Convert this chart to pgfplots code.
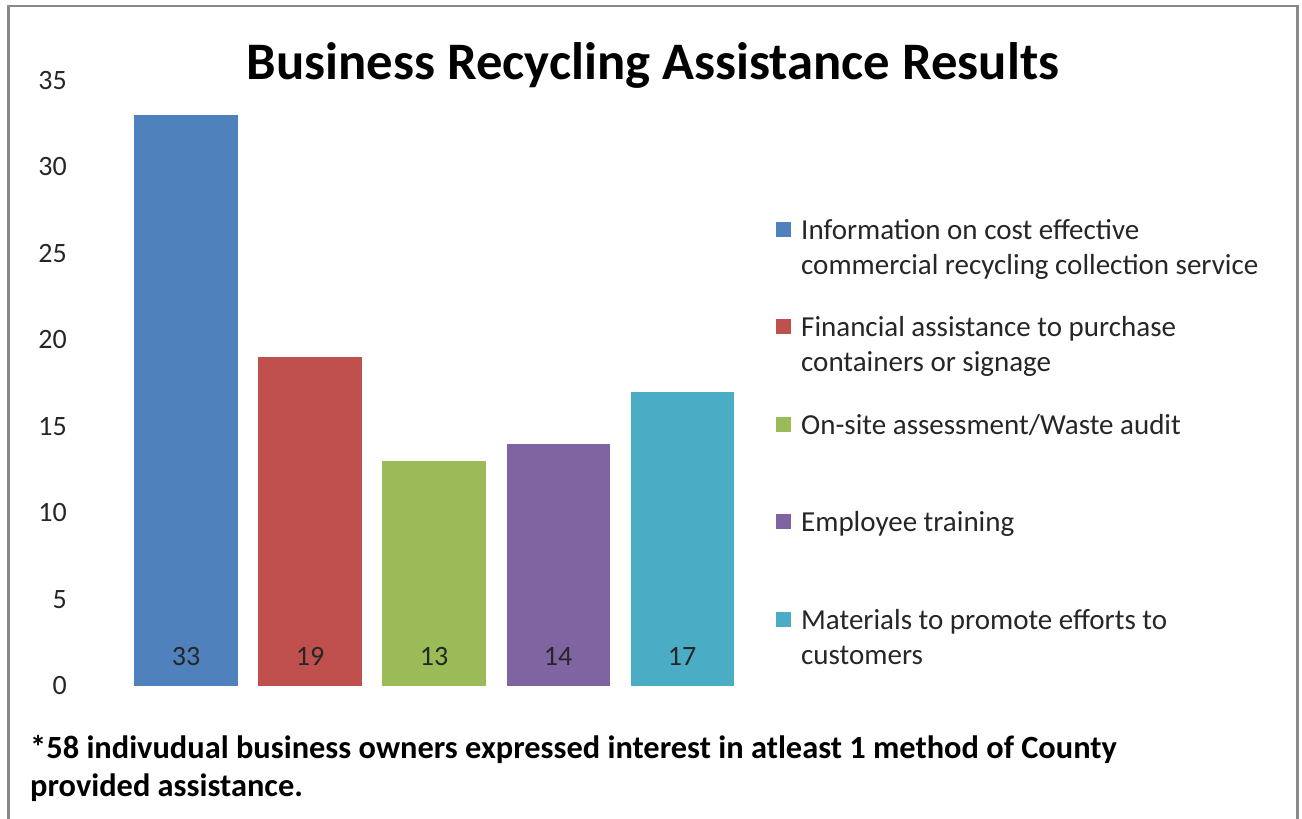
\documentclass[border=0pt]{standalone}
\usepackage{fontspec}
\setmainfont{Carlito}
\usepackage{pgfplots}
\pgfplotsset{compat=1.18}
\definecolor{c1}{HTML}{4F81BD}
\definecolor{c2}{HTML}{C0504D}
\definecolor{c3}{HTML}{9BBB59}
\definecolor{c4}{HTML}{8064A2}
\definecolor{c5}{HTML}{4BACC6}
\definecolor{frame}{HTML}{898989}
\definecolor{txt}{HTML}{262626}
\begin{document}
\begin{tikzpicture}
\path[use as bounding box] (0pt,0pt) rectangle (1302pt,819pt);
\draw[line width=2.5pt, frame] (8.5pt,-20pt) -- (8.5pt,813pt) -- (1297.5pt,813pt) -- (1297.5pt,-20pt);
\begin{axis}[
  at={(124pt,133pt)}, anchor=south west,
  width=620pt, height=605.5pt, scale only axis,
  xmin=-0.5, xmax=4.5, ymin=0, ymax=35,
  ytick={0,5,...,35}, xtick=\empty,
  axis lines*=left, axis line style={draw=none},
  major tick length=0pt,
  /pgf/number format/assume math mode=true,
  yticklabel style={anchor=east, inner sep=0pt, xshift=-57pt, font=\fontsize{28}{32}\selectfont, text=txt},
  clip=false,
  legend image code/.code={\fill[#1,draw=none] (0pt,-9pt) rectangle (15pt,6pt);},
  legend style={at={(axis description cs:1.0516,0.782)}, anchor=north west, draw=none, inner sep=0pt,
    font=\fontsize{29}{35}\selectfont, text=txt, row sep=67.5pt, column sep=8pt,
    cells={inner sep=0pt, anchor=base west}},
  legend cell align=left,
]
\addplot[ybar, bar width=103pt, fill=c1, draw=none] coordinates {(0,33)};
\addlegendentry{\parbox[t]{480pt}{\strut Information on cost effective\\\strut commercial recycling collection service}}
\addplot[ybar, bar width=103pt, fill=c2, draw=none] coordinates {(1,19)};
\addlegendentry{\parbox[t]{480pt}{\strut Financial assistance to purchase\\\strut containers or signage}}
\addplot[ybar, bar width=103pt, fill=c3, draw=none] coordinates {(2,13)};
\addlegendentry{\parbox[t]{480pt}{\strut On-site assessment/Waste audit\\\strut}}
\addplot[ybar, bar width=103pt, fill=c4, draw=none] coordinates {(3,14)};
\addlegendentry{\parbox[t]{480pt}{\strut Employee training\\\strut}}
\addplot[ybar, bar width=103pt, fill=c5, draw=none] coordinates {(4,17)};
\addlegendentry{\parbox[t]{480pt}{\strut Materials to promote efforts to\\\strut customers}}
\addplot[only marks, mark=none, forget plot, nodes near coords, point meta=explicit symbolic,
  every node near coord/.style={anchor=center, inner sep=0pt, font=\fontsize{28}{32}\selectfont, text=txt}]
  coordinates {(0,1.72)[33] (1,1.72)[19] (2,1.72)[13] (3,1.72)[14] (4,1.72)[17]};
\end{axis}
\node[anchor=base, font=\bfseries\fontsize{52.7}{60}\selectfont] at (653pt,739pt) {Business Recycling Assistance Results};
\node[anchor=base west, inner sep=0pt, font=\bfseries\fontsize{32.4}{38}\selectfont] at (30pt,60pt) {\parbox[t]{1250pt}{*58 indivudual business owners expressed interest in atleast 1 method of County\\provided assistance.}};
\end{tikzpicture}
\end{document}
